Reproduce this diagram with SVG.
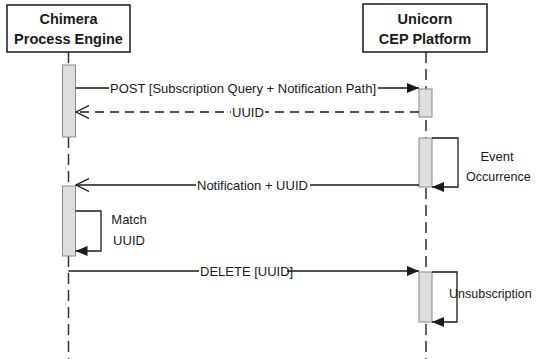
<svg xmlns="http://www.w3.org/2000/svg" width="536" height="359" viewBox="0 0 536 359">
<style>
.box{fill:#fff;stroke:#1a1a1a;stroke-width:1.5}
.title{font-family:"Liberation Sans",Arial,sans-serif;font-weight:bold;font-size:14.5px;fill:#1a1a1a;text-anchor:middle}
.life{stroke:#333;stroke-width:1.5;stroke-dasharray:11 6;fill:none}
.act{fill:#dedede;stroke:#8a8a8a;stroke-width:1}
.msg{stroke:#1a1a1a;stroke-width:1.3;fill:none}
.ret{stroke:#1a1a1a;stroke-width:1.3;fill:none;stroke-dasharray:9 6}
.lbl{font-family:"Liberation Sans",Arial,sans-serif;font-size:13px;fill:#1a1a1a}
.bg{fill:#fff}
</style>
<defs>
<marker id="filled" markerWidth="12" markerHeight="10" refX="12" refY="5" orient="auto" markerUnits="userSpaceOnUse">
<path d="M0,0 L12,5 L0,10 Z" fill="#1a1a1a"/>
</marker>
<marker id="open" markerWidth="14" markerHeight="14" refX="13" refY="7" orient="auto" markerUnits="userSpaceOnUse">
<path d="M0,0.5 L13,7 L0,13.5" fill="none" stroke="#1a1a1a" stroke-width="1.3"/>
</marker>
</defs>
<g id="lifelines">
<line class="life" x1="68.5" y1="52" x2="68.5" y2="359"/>
<line class="life" x1="426" y1="52" x2="426" y2="359"/>
</g>
<g id="chimera">
<rect class="box" x="7" y="5" width="123" height="47"/>
<text class="title" x="68.5" y="24">Chimera</text>
<text class="title" x="68.5" y="44">Process Engine</text>
</g>
<g id="unicorn">
<rect class="box" x="363" y="4" width="124" height="48"/>
<text class="title" x="425" y="24">Unicorn</text>
<text class="title" x="425" y="44">CEP Platform</text>
</g>
<g id="activations">
<rect class="act" x="62.5" y="65" width="13" height="72"/>
<rect class="act" x="419" y="89" width="13" height="28"/>
<rect class="act" x="419" y="138" width="13" height="49"/>
<rect class="act" x="62.5" y="186" width="13" height="70"/>
<rect class="act" x="419" y="272" width="13" height="50"/>
</g>
<g id="connectors">
<line class="msg" x1="75.5" y1="88" x2="419" y2="88" marker-end="url(#filled)"/>
<rect class="bg" x="109" y="80" width="269" height="16"/>
<text class="lbl" x="110" y="92.5">POST [Subscription Query + Notification Path]</text>
<line class="ret" x1="419" y1="112" x2="76" y2="112" marker-end="url(#open)"/>
<rect class="bg" x="231" y="104" width="34" height="16"/>
<text class="lbl" x="232" y="116.5">UUID</text>
<polyline class="msg" points="432,138 458,138 458,187 432,187" marker-end="url(#filled)"/>
<text class="lbl" x="497" y="161" text-anchor="middle">Event</text>
<text class="lbl" x="466" y="181" style="font-size:12.5px">Occurrence</text>
<line class="msg" x1="419" y1="185" x2="76" y2="185" marker-end="url(#open)"/>
<rect class="bg" x="196" y="177" width="114" height="16"/>
<text class="lbl" x="197" y="189.5">Notification + UUID</text>
<polyline class="msg" points="75.5,211 101,211 101,251 75.5,251" marker-end="url(#filled)"/>
<text class="lbl" x="129" y="223.5" text-anchor="middle">Match</text>
<text class="lbl" x="129" y="244.5" text-anchor="middle">UUID</text>
<line class="msg" x1="68.5" y1="271" x2="419" y2="271" marker-end="url(#filled)"/>
<rect class="bg" x="199" y="263" width="88" height="16"/>
<text class="lbl" x="200" y="275.5">DELETE [UUID]</text>
<polyline class="msg" points="432,272 457,272 457,322 432,322" marker-end="url(#filled)"/>
<text class="lbl" x="449" y="297.5" style="font-size:12.5px">Unsubscription</text>
</g>
</svg>
